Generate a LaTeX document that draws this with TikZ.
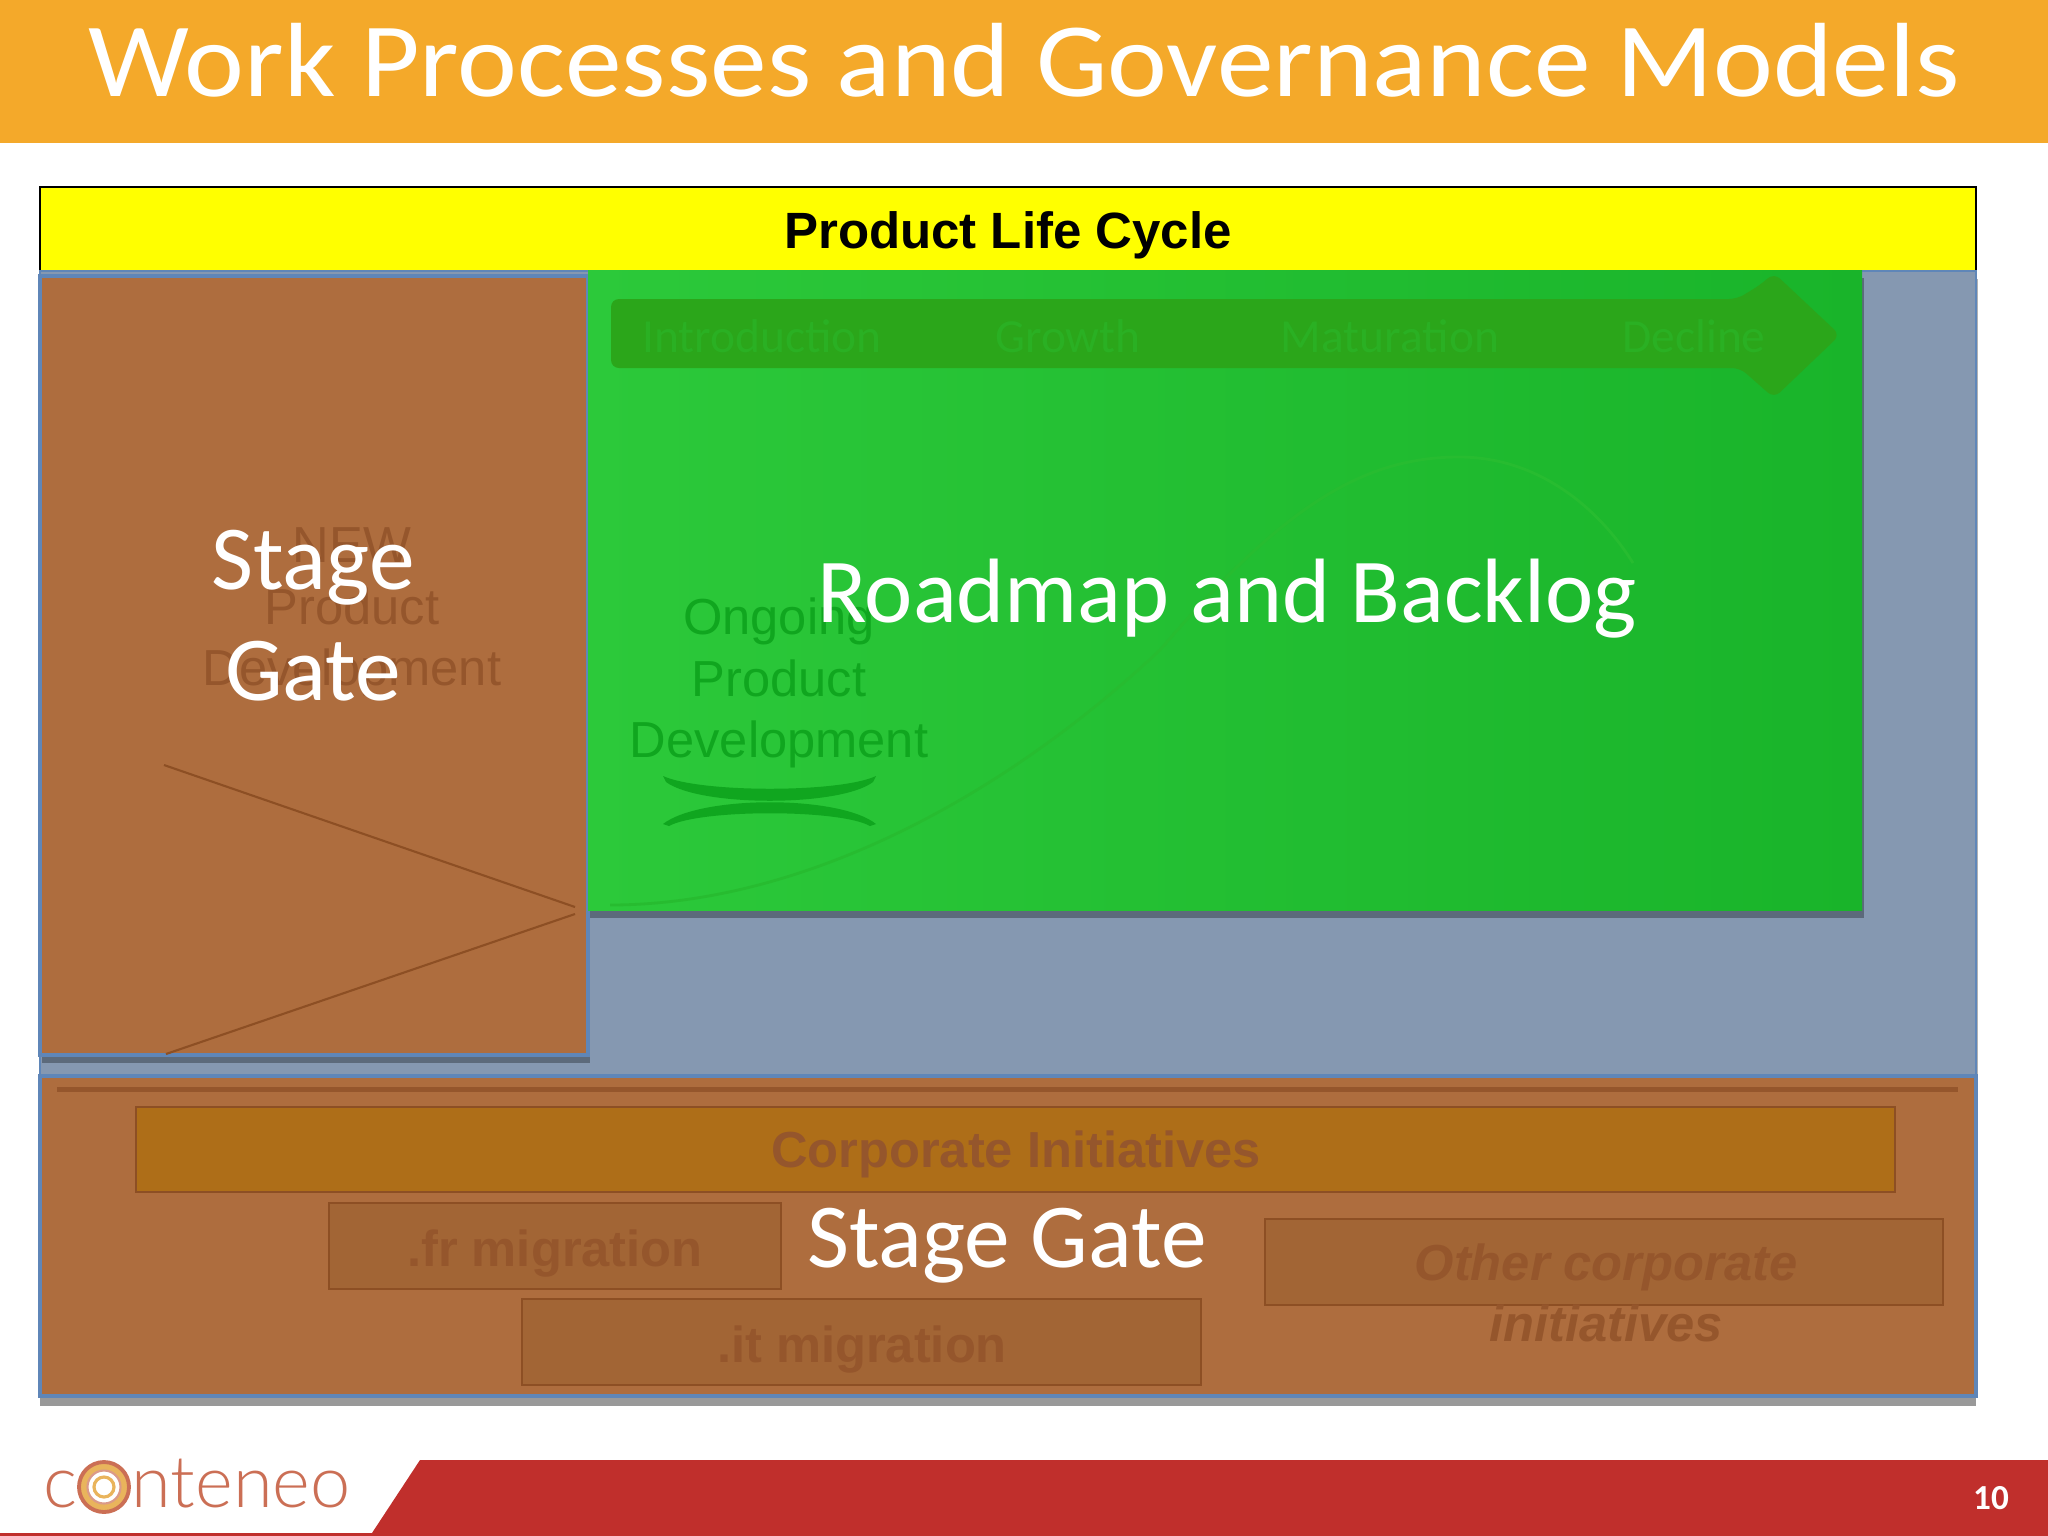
\documentclass[tikz,border=0pt]{standalone}
\usepackage{fontspec}
\setmainfont{Carlito}
\newfontfamily\arialfont{Liberation Sans}
\newfontfamily\logofont{Lato Light}
\usetikzlibrary{shadows}
\definecolor{titleorange}{HTML}{F4A92A}
\definecolor{headeryellow}{HTML}{FFFF00}
\definecolor{slate}{HTML}{8598B1}
\definecolor{edgeblue}{HTML}{5F86B8}
\definecolor{brownfill}{HTML}{AE6D3E}
\definecolor{browntext}{HTML}{95562C}
\definecolor{brownline}{HTML}{8D4F24}
\definecolor{initfill}{HTML}{AE6E18}
\definecolor{migfill}{HTML}{A26535}
\definecolor{greenleft}{HTML}{2CC93A}
\definecolor{greenright}{HTML}{19B42A}
\definecolor{greenband}{HTML}{2BA61A}
\definecolor{greenlabel}{HTML}{2AB023}
\definecolor{greentext}{HTML}{10A61F}
\definecolor{greencurve}{HTML}{27BC30}
\definecolor{footerred}{HTML}{C02F2C}
\definecolor{logored}{HTML}{CB6F55}
\definecolor{logoring}{HTML}{E9B45C}

\begin{document}
\begin{tikzpicture}
      [%%%%%%%%%%%%%%%%%%%%%%%%%%%%%%
      x=0.01cm,y=-0.01cm,
      box/.style={rectangle,inner sep=0pt,outer sep=0pt},
      panel/.style={box,fill=brownfill,draw=edgeblue,line width=1pt},
      initbox/.style={box,draw=brownline,line width=0.7pt},
      initlabel/.style={text=browntext,font=\arialfont\bfseries\fontsize{14.4}{17}\selectfont},
      softshadow/.style={drop shadow={shadow xshift=2*0.01cm,shadow yshift=-8*0.01cm,opacity=0.3,fill=black}},
      arial/.style={font=\arialfont\fontsize{14.4}{17.4}\selectfont,align=center},
      bigwhite/.style={text=white,font=\fontsize{26}{31.6}\selectfont,align=center},
      phase/.style={text=greenlabel,font=\fontsize{13.5}{16}\selectfont},
      ]%%%%%%%%%%%%%%%%%%%%%%%%%%%%%%
      \useasboundingbox (0,0) rectangle (2048,1536);

      % title and footer
      \node[box,fill=titleorange,minimum width=2048*0.01cm,minimum height=143*0.01cm] (titlebar) at (1024,71.5){};
      \node[text=white,font=\fontsize{30}{36}\selectfont] (title) at (1024,60){\scalebox{1.075}[1]{Work Processes and Governance Models}};
      \fill[footerred] (420,1460) -- (2048,1460) -- (2048,1536) -- (0,1536) -- (0,1533) -- (372,1533) -- cycle;
      \node[text=white,font=\bfseries\fontsize{10}{12}\selectfont] (pagenum) at (1991,1498){10};

      % logo
      \node[anchor=base west,inner sep=0pt,text=logored,font=\logofont\fontsize{20.5}{26}\selectfont] (logoc) at (43,1507){c};
      \node[circle,inner sep=0pt,minimum size=50*0.01cm,draw=logored,line width=1.1pt,fill=logoring] (ringa) at (104,1487){};
      \node[circle,inner sep=0pt,minimum size=33*0.01cm,draw=logored!70,line width=0.6pt,fill=white] (ringb) at (104,1487){};
      \node[circle,inner sep=0pt,minimum size=20*0.01cm,draw=logoring,line width=0.9pt,fill=white] (ringc) at (104,1487){};
      \node[anchor=base west,inner sep=0pt,text=logored,font=\logofont\fontsize{20.5}{26}\selectfont] (logorest) at (131,1507){nteneo};

      % life cycle header
      \node[box,fill=headeryellow,draw=black,line width=0.6pt,minimum width=1936*0.01cm,minimum height=84*0.01cm] (header) at (1008,229){};
      \node[font=\arialfont\bfseries\fontsize{14.5}{18}\selectfont] (headertext) at (1008,235){Product Life Cycle};

      % panels
      \node[box,fill=slate,draw=edgeblue,line width=0.5pt,softshadow,minimum width=1936*0.01cm,minimum height=805*0.01cm] (backdrop) at (1008,673.5){};
      \node[panel,softshadow,minimum width=548*0.01cm,minimum height=779*0.01cm] (leftgate) at (314,665.5){};
      \node[box,left color=greenleft,right color=greenright,softshadow,minimum width=1274*0.01cm,minimum height=640*0.01cm] (roadmap) at (1225,590){};
      \node[panel,drop shadow={shadow xshift=0pt,shadow yshift=-10*0.01cm,opacity=0.4,fill=black},minimum width=1936*0.01cm,minimum height=320*0.01cm] (lowergate) at (1008,1236){};

      % phases arrow
      \fill[greenband,rounded corners=8*0.01cm] (611,299) -- (1737,299) -- (1760,285) -- (1774,273) -- (1840,335) -- (1774,398) -- (1740,368) -- (611,368) -- cycle;
      \node[phase] (intro) at (762,336){Introduction};
      \node[phase] (growth) at (1068,336){Growth};
      \node[phase] (maturation) at (1390,336){Maturation};
      \node[phase] (decline) at (1694,336){Decline};
      \draw[greencurve,line width=0.8pt] (610,905) .. controls (800,905) and (1000,800) .. (1160,650) .. controls (1280,510) and (1360,457) .. (1459,457) .. controls (1540,457) and (1600,510) .. (1633,563);

      % ongoing development
      \node[arial,text=greentext] (ongoing) at (779,683){Ongoing\\Product\\Development};
      \fill[greentext] (663,776) .. controls (700,793) and (840,793) .. (876,776) -- (873,782) .. controls (840,807) and (700,807) .. (666,782) -- cycle;
      \fill[greentext] (663,824) .. controls (700,795) and (840,795) .. (876,824) -- (870,826) .. controls (840,809) and (700,809) .. (669,826) -- cycle;

      % new development
      \node[arial,text=browntext] (newdev) at (352,612){NEW\\Product\\Development};
      \coordinate (lineatop) at (164,765);
      \coordinate (lineatip) at (575,907);
      \coordinate (linebtip) at (575,914);
      \coordinate (linebbot) at (166,1054);
      \draw[brownline,line width=0.6pt] (lineatop) -- (lineatip);
      \draw[brownline,line width=0.6pt] (linebtip) -- (linebbot);

      % corporate initiatives
      \fill[browntext] (57,1087) rectangle (1958,1092);
      \node[initbox,fill=initfill,minimum width=1759*0.01cm,minimum height=85*0.01cm] (corporate) at (1015.5,1149.5){};
      \node[initbox,fill=migfill,minimum width=452*0.01cm,minimum height=86*0.01cm] (frmig) at (555,1246){};
      \node[initbox,fill=migfill,minimum width=679*0.01cm,minimum height=86*0.01cm] (itmig) at (861.5,1342){};
      \node[initbox,fill=migfill,minimum width=678*0.01cm,minimum height=86*0.01cm] (otherbox) at (1604,1262){};
      \node[initlabel] (corporatetext) at (1016,1154){Corporate Initiatives};
      \node[initlabel] (frtext) at (555,1253){.fr migration};
      \node[initlabel] (ittext) at (862,1349){.it migration};
      \node[font=\arialfont\bfseries\itshape\fontsize{14.4}{17.4}\selectfont,text=browntext,align=center] (othertext) at (1606,1293){Other corporate\\initiatives};

      % white labels
      \node[bigwhite] (leftlabel) at (313,616){Stage\\Gate};
      \node[bigwhite] (roadmaplabel) at (1227,599){Roadmap and Backlog};
      \node[bigwhite] (lowerlabel) at (1007,1246){Stage Gate};
    \end{tikzpicture}
\end{document}
